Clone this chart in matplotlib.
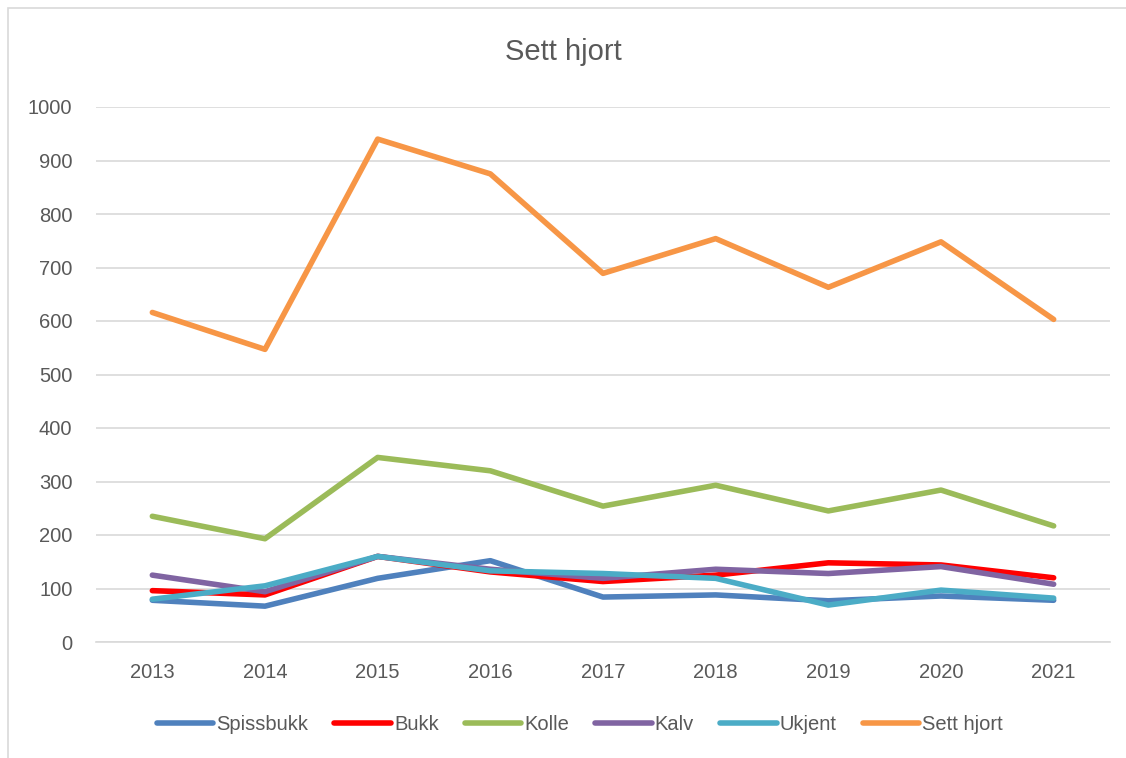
import numpy as np
import matplotlib.pyplot as plt
from matplotlib.patches import Rectangle

plt.rcParams['font.family'] = ['Liberation Sans', 'DejaVu Sans']

years = ["2013", "2014", "2015", "2016", "2017", "2018", "2019", "2020", "2021"]
spissbukk = [78, 67, 119, 152, 84, 88, 77, 86, 78]
bukk = [96, 88, 160, 131, 113, 125, 148, 144, 120]
kolle = [235, 193, 345, 320, 254, 293, 245, 284, 217]
kalv = [125, 94, 160, 136, 119, 136, 128, 141, 108]
ukjent = [80, 105, 160, 133, 128, 119, 69, 97, 82]
sett_hjort = [616, 547, 940, 875, 689, 754, 663, 748, 603]

series = [
    ("Spissbukk", spissbukk, "#4f81bd"),
    ("Bukk", bukk, "#ff0000"),
    ("Kolle", kolle, "#9bbb59"),
    ("Kalv", kalv, "#8064a2"),
    ("Ukjent", ukjent, "#4bacc6"),
    ("Sett hjort", sett_hjort, "#f79646"),
]

W, H = 1126, 758
fig = plt.figure(figsize=(W / 100, H / 100), dpi=100)
ax = fig.add_axes([96 / W, 1 - 642 / H, (1110 - 96) / W, (642 - 107) / H])

# chart frame (only left and top edges show in the reference)
fig.patches.append(Rectangle((8 / W, -0.1), 1.2, (750 / H) + 0.1,
                             transform=fig.transFigure, fill=False,
                             edgecolor="#d9d9d9", lw=1.2))

x = np.arange(len(years))
for name, vals, col in series:
    ax.plot(x, vals, color=col, lw=4, label=name, solid_capstyle="round",
            solid_joinstyle="round")

ax.set_xlim(-0.5, len(years) - 0.5)
ax.set_ylim(0, 1000)
ax.set_yticks(range(0, 1001, 100))
ax.set_xticks(x)
ax.set_xticklabels(years)
ax.grid(axis="y", color="#d9d9d9", lw=1.2)
ax.set_axisbelow(True)
for s in ["top", "right", "left"]:
    ax.spines[s].set_visible(False)
ax.spines["bottom"].set_color("#d9d9d9")
ax.spines["bottom"].set_linewidth(1.2)
ax.tick_params(length=0, labelsize=14.5, colors="#595959", pad=15)
ax.tick_params(axis="y", pad=17)

fig.text(0.5, 1 - 52 / H, "Sett hjort", ha="center", va="center",
         fontsize=21, color="#595959")

fig.legend(loc="center", bbox_to_anchor=(0.515, 1 - 725 / H), ncol=6,
           frameon=False, fontsize=14.5, labelcolor="#595959",
           handlelength=2.8, handletextpad=0.15, columnspacing=1.3)

fig.savefig("out.png", dpi=100)
